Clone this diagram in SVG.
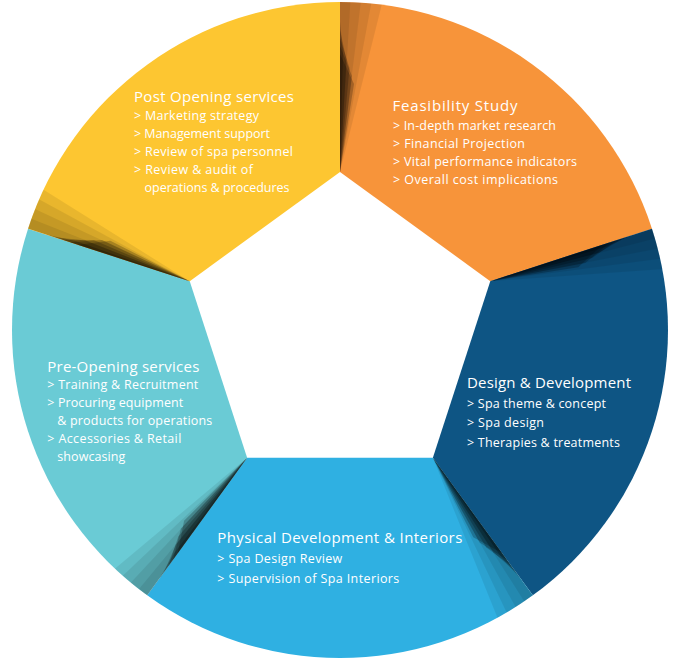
<svg xmlns="http://www.w3.org/2000/svg" width="680" height="661" viewBox="0 0 680 661">
<style>
  text { font-family: "Open Sans", "Liberation Sans", sans-serif; fill: #ffffff; }
  .h { font-size: 15px; }
  .i { font-size: 12.5px; }
  .l { fill: #000000; fill-opacity: 0.08; }
  .m { fill: #000000; fill-opacity: 0.22; }
</style>
<defs>
  <clipPath id="circ"><circle cx="340" cy="330" r="328"/></clipPath>
</defs>
<rect width="680" height="661" fill="#ffffff"/>

<g id="feasibility">
  <path d="M340,172 L340,2 A328,328 0 0 1 651.95,228.64 L490.27,281.17 Z" fill="#f7943a"/>
</g>
<g id="design">
  <path d="M490.27,281.17 L651.95,228.64 A328,328 0 0 1 532.79,595.36 L432.87,457.83 Z" fill="#0e5584"/>
</g>
<g id="physical">
  <path d="M432.87,457.83 L532.79,595.36 A328,328 0 0 1 147.21,595.36 L247.13,457.83 Z" fill="#2fb0e2"/>
</g>
<g id="preopening">
  <path d="M247.13,457.83 L147.21,595.36 A328,328 0 0 1 28.05,228.64 L189.73,281.17 Z" fill="#6acbd5"/>
</g>
<g id="postopening">
  <path d="M189.73,281.17 L28.05,228.64 A328,328 0 0 1 340,2 L340,172 Z" fill="#fdc631"/>
</g>

<g id="connectors" clip-path="url(#circ)">
  <g id="fold-1">
    <polygon class="l" points="340,172 340,-8 351,-8"/>
    <polygon class="l" points="340,172 340,-8 362.1,-8"/>
    <polygon class="l" points="340,172 340,-8 373.4,-8"/>
    <polygon class="l" points="340,172 340,-8 384.9,-8"/>
    <polygon class="m" points="340,172 340,22 343,52"/>
    <polygon class="m" points="340,172 340,30 346.5,60"/>
    <polygon class="m" points="340,172 340,38 349.5,68"/>
    <polygon class="m" points="340,172 340,46 352,76"/>
    <polygon class="m" points="340,172 340,54 354,84"/>
  </g>
  <g id="fold-2">
    <polygon class="l" points="490.27,281.17 661.46,225.55 664.86,236.01"/>
    <polygon class="l" points="490.27,281.17 661.46,225.55 668.29,246.57"/>
    <polygon class="l" points="490.27,281.17 661.46,225.55 671.78,257.32"/>
    <polygon class="l" points="490.27,281.17 661.46,225.55 675.34,268.25"/>
    <polygon class="m" points="490.27,281.17 632.93,234.82 605.33,246.94"/>
    <polygon class="m" points="490.27,281.17 625.32,237.29 598.8,252.74"/>
    <polygon class="m" points="490.27,281.17 617.71,239.76 592.12,258.07"/>
    <polygon class="m" points="490.27,281.17 610.1,242.23 585.28,262.91"/>
    <polygon class="m" points="490.27,281.17 602.5,244.71 578.29,267.29"/>
  </g>
  <g id="fold-3">
    <polygon class="l" points="432.87,457.83 538.67,603.45 529.77,609.92"/>
    <polygon class="l" points="432.87,457.83 538.67,603.45 520.79,616.44"/>
    <polygon class="l" points="432.87,457.83 538.67,603.45 511.65,623.08"/>
    <polygon class="l" points="432.87,457.83 538.67,603.45 502.34,629.84"/>
    <polygon class="m" points="432.87,457.83 521.04,579.18 500.97,556.67"/>
    <polygon class="m" points="432.87,457.83 516.34,572.71 493.44,552.26"/>
    <polygon class="m" points="432.87,457.83 511.63,566.24 486.31,547.55"/>
    <polygon class="m" points="432.87,457.83 506.93,559.77 479.59,542.55"/>
    <polygon class="m" points="432.87,457.83 502.23,553.29 473.27,537.25"/>
  </g>
  <g id="fold-4">
    <polygon class="l" points="247.13,457.83 141.33,603.45 132.43,596.98"/>
    <polygon class="l" points="247.13,457.83 141.33,603.45 123.45,590.46"/>
    <polygon class="l" points="247.13,457.83 141.33,603.45 114.31,583.82"/>
    <polygon class="l" points="247.13,457.83 141.33,603.45 105,577.06"/>
    <polygon class="m" points="247.13,457.83 158.96,579.18 174.17,553.15"/>
    <polygon class="m" points="247.13,457.83 163.66,572.71 176.04,544.62"/>
    <polygon class="m" points="247.13,457.83 168.37,566.24 178.31,536.39"/>
    <polygon class="m" points="247.13,457.83 173.07,559.77 180.99,528.45"/>
    <polygon class="m" points="247.13,457.83 177.77,553.29 184.07,520.79"/>
  </g>
  <g id="fold-5">
    <polygon class="l" points="189.73,281.17 18.54,225.55 21.94,215.09"/>
    <polygon class="l" points="189.73,281.17 18.54,225.55 25.37,204.53"/>
    <polygon class="l" points="189.73,281.17 18.54,225.55 28.86,193.78"/>
    <polygon class="l" points="189.73,281.17 18.54,225.55 32.42,182.85"/>
    <polygon class="m" points="189.73,281.17 47.07,234.82 76.53,241.24"/>
    <polygon class="m" points="189.73,281.17 54.68,237.29 85.22,240.38"/>
    <polygon class="m" points="189.73,281.17 62.29,239.76 93.76,239.99"/>
    <polygon class="m" points="189.73,281.17 69.9,242.23 102.14,240.09"/>
    <polygon class="m" points="189.73,281.17 77.5,244.71 110.37,240.67"/>
  </g>
</g>

<g id="feasibility-text">
  <text class="h" x="392.5" y="110.7" textLength="125" lengthAdjust="spacing">Feasibility Study</text>
  <text class="i" x="393" y="129.5" textLength="163" lengthAdjust="spacing">&gt; In-depth market research</text>
  <text class="i" x="393" y="147.5" textLength="132" lengthAdjust="spacing">&gt; Financial Projection</text>
  <text class="i" x="393" y="165.7" textLength="184" lengthAdjust="spacing">&gt; Vital performance indicators</text>
  <text class="i" x="393" y="183.5" textLength="165" lengthAdjust="spacing">&gt; Overall cost implications</text>
</g>
<g id="design-text">
  <text class="h" x="467" y="387.7" textLength="164" lengthAdjust="spacing">Design &amp; Development</text>
  <text class="i" x="467" y="407.7" textLength="139" lengthAdjust="spacing">&gt; Spa theme &amp; concept</text>
  <text class="i" x="467" y="427.3" textLength="77" lengthAdjust="spacing">&gt; Spa design</text>
  <text class="i" x="467" y="446.7" textLength="153" lengthAdjust="spacing">&gt; Therapies &amp; treatments</text>
</g>
<g id="physical-text">
  <text class="h" x="217.3" y="542.7" textLength="245" lengthAdjust="spacing">Physical Development &amp; Interiors</text>
  <text class="i" x="217.3" y="563.3" textLength="125" lengthAdjust="spacing">&gt; Spa Design Review</text>
  <text class="i" x="217.3" y="583.3" textLength="182" lengthAdjust="spacing">&gt; Supervision of Spa Interiors</text>
</g>
<g id="preopening-text">
  <text class="h" x="47.3" y="371.7" textLength="152" lengthAdjust="spacing">Pre-Opening services</text>
  <text class="i" x="47.3" y="389.2" textLength="151" lengthAdjust="spacing">&gt; Training &amp; Recruitment</text>
  <text class="i" x="47.3" y="407" textLength="136" lengthAdjust="spacing">&gt; Procuring equipment</text>
  <text class="i" x="57.3" y="425" textLength="155" lengthAdjust="spacing">&amp; products for operations</text>
  <text class="i" x="47.3" y="443" textLength="134" lengthAdjust="spacing">&gt; Accessories &amp; Retail</text>
  <text class="i" x="57.3" y="461" textLength="68" lengthAdjust="spacing">showcasing</text>
</g>
<g id="postopening-text">
  <text class="h" x="134" y="101.7" textLength="160" lengthAdjust="spacing">Post Opening services</text>
  <text class="i" x="134" y="119.5" textLength="125" lengthAdjust="spacing">&gt; Marketing strategy</text>
  <text class="i" x="134" y="137.5" textLength="136" lengthAdjust="spacing">&gt; Management support</text>
  <text class="i" x="134" y="156" textLength="159" lengthAdjust="spacing">&gt; Review of spa personnel</text>
  <text class="i" x="134" y="174" textLength="119" lengthAdjust="spacing">&gt; Review &amp; audit of</text>
  <text class="i" x="144.5" y="191.7" textLength="145" lengthAdjust="spacing">operations &amp; procedures</text>
</g>
</svg>
